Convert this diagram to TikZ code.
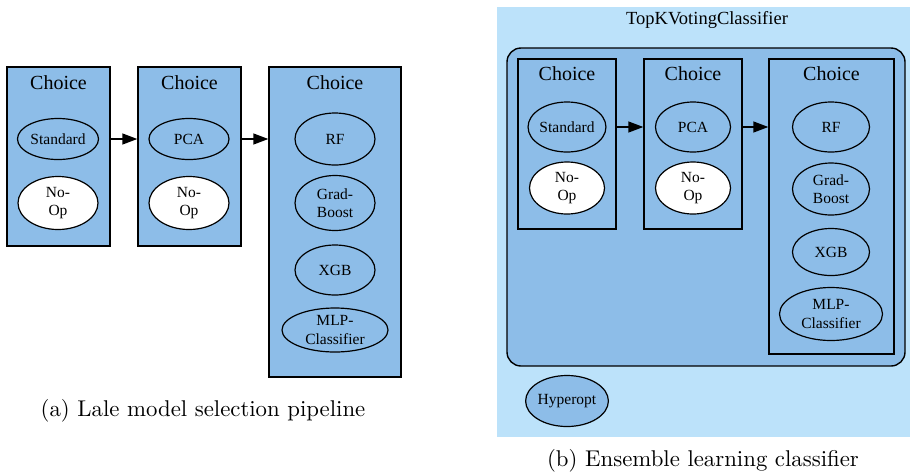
\documentclass[tikz,border=0pt]{standalone}
\usepackage{fontspec}
\newfontfamily\nodefont{Liberation Serif}
\newfontfamily\capfont{lmroman10-regular.otf}
\usetikzlibrary{shapes.geometric,arrows.meta}
\definecolor{stepblue}{RGB}{141,189,232}
\definecolor{paleblue}{RGB}{188,226,250}
\tikzset{
  choicebox/.style={draw=black, line width=1.4pt, fill=stepblue, inner sep=0pt},
  opnode/.style={ellipse, draw=black, line width=1.2pt, fill=stepblue, inner sep=0pt,
    align=center, font=\nodefont\fontsize{15.5}{18.5}\selectfont},
  noop/.style={opnode, fill=white},
  boxtitle/.style={font=\nodefont\fontsize{20}{24}\selectfont, inner sep=0pt},
  flow/.style={line width=1.4pt, -{Triangle[length=15pt,width=11pt]}},
  caption/.style={font=\capfont\fontsize{22.8}{27}\selectfont, inner sep=0pt},
}
\begin{document}
\begin{tikzpicture}[x=1pt,y=-1pt]
\useasboundingbox (0,0) rectangle (910,475);

% ---------- (a) model selection pipeline ----------
\node[choicebox, minimum width=103pt, minimum height=179pt] (a1) at (58.5,156.5) {};
\node[choicebox, minimum width=103pt, minimum height=179pt] (a2) at (189.5,156.5) {};
\node[choicebox, minimum width=132pt, minimum height=310pt] (a3) at (335,222) {};
\node[boxtitle] (a1t) at (58.5,83) {Choice};
\node[boxtitle] (a2t) at (189.5,83) {Choice};
\node[boxtitle] (a3t) at (335,83) {Choice};

\node[opnode, minimum width=81pt, minimum height=41pt] (astd) at (58,139) {Standard};
\node[noop, minimum width=80pt, minimum height=53pt] (anop1) at (58,203) {No-\\Op};
\node[opnode, minimum width=80pt, minimum height=41pt] (apca) at (189,139) {PCA};
\node[noop, minimum width=80pt, minimum height=53pt] (anop2) at (189,203) {No-\\Op};
\node[opnode, minimum width=80pt, minimum height=52pt] (arf) at (335,139) {RF};
\node[opnode, minimum width=80pt, minimum height=55pt] (agb) at (335,203) {Grad-\\Boost};
\node[opnode, minimum width=80pt, minimum height=50pt] (axgb) at (335,270) {XGB};
\node[opnode, minimum width=106pt, minimum height=44pt] (amlp) at (335,330) {MLP-\\Classifier};

\draw[flow] (a1.east |- astd) -- (a2.west |- astd);
\draw[flow] (a2.east |- apca) -- (a3.west |- apca);

\node[caption] (capa) at (203,411) {(a) Lale model selection pipeline};

% ---------- (b) ensemble classifier ----------
\node[fill=paleblue, inner sep=0pt, minimum width=413pt, minimum height=430pt] (bg) at (703.5,222) {};
\node[font=\nodefont\fontsize{18.5}{22}\selectfont, inner sep=0pt] (bgt) at (707,20) {TopKVotingClassifier};
\node[draw=black, line width=1.4pt, fill=stepblue, rounded corners=14pt, inner sep=0pt,
  minimum width=398pt, minimum height=318pt] (pipe) at (706,207) {};

\node[choicebox, minimum width=98pt, minimum height=170pt] (b1) at (567,144) {};
\node[choicebox, minimum width=98pt, minimum height=170pt] (b2) at (693,144) {};
\node[choicebox, minimum width=125pt, minimum height=295pt] (b3) at (831.5,206.5) {};
\node[boxtitle] (b1t) at (567,74) {Choice};
\node[boxtitle] (b2t) at (693,74) {Choice};
\node[boxtitle] (b3t) at (831.5,74) {Choice};

\node[opnode, minimum width=75pt, minimum height=50pt] (bstd) at (567,127) {Standard};
\node[noop, minimum width=75pt, minimum height=52pt] (bnop1) at (567,188) {No-\\Op};
\node[opnode, minimum width=75pt, minimum height=50pt] (bpca) at (693,127) {PCA};
\node[noop, minimum width=75pt, minimum height=52pt] (bnop2) at (693,188) {No-\\Op};
\node[opnode, minimum width=77pt, minimum height=50pt] (brf) at (831,127) {RF};
\node[opnode, minimum width=77pt, minimum height=52pt] (bgb) at (831,189) {Grad-\\Boost};
\node[opnode, minimum width=77pt, minimum height=47pt] (bxgb) at (831,252) {XGB};
\node[opnode, minimum width=103pt, minimum height=53pt] (bmlp) at (831,314) {MLP-\\Classifier};
\node[opnode, minimum width=79pt, minimum height=51pt] (bhyp) at (567,401) {Hyperopt};

\draw[flow] (b1.east |- bstd) -- (b2.west |- bstd);
\draw[flow] (b2.east |- bpca) -- (b3.west |- bpca);

\node[caption] (capb) at (703,461) {(b) Ensemble learning classifier};
\end{tikzpicture}
\end{document}
